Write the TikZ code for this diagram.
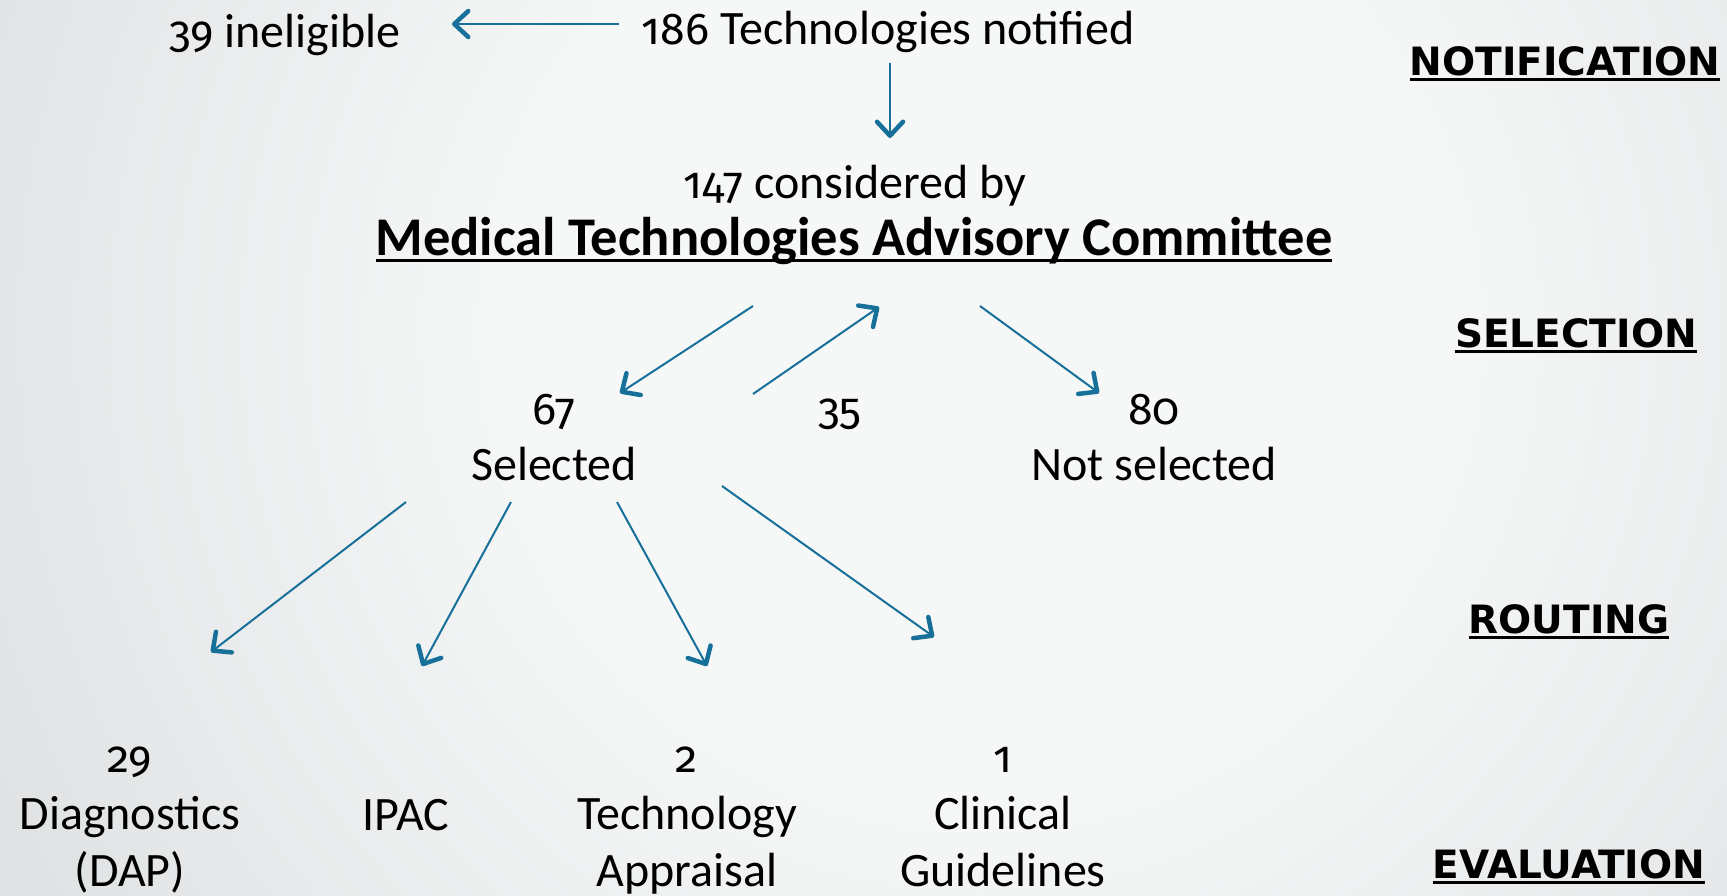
\documentclass[tikz,border=0pt]{standalone}
\usepackage{fontspec}
\setmainfont{Carlito}
\newfontfamily\oldnum[Numbers=OldStyle,Scale=0.93]{Fira Sans}
\newfontfamily\stagefont{DejaVu Sans}
\usetikzlibrary{arrows.meta}

\definecolor{flow}{HTML}{17709A}
\definecolor{paperA}{HTML}{F6F7F7}
\definecolor{paperB}{HTML}{D9DCDE}
\definecolor{paperC}{HTML}{B4B8BB}
\pgfdeclareradialshading{paper}{\pgfpointorigin}{%
  color(0bp)=(paperA); color(10bp)=(paperA); color(28bp)=(paperB); color(50bp)=(paperC)}

% text with a rule underneath: text, depth of rule, rule thickness
\newsavebox\ulinebox
\newcommand\ulinetext[3]{%
  \sbox\ulinebox{#1}\rlap{\usebox\ulinebox}\rule[-#2]{\wd\ulinebox}{#3}}
% figures set as old-style numerals
\newcommand\num[1]{{\oldnum #1}}

\begin{document}
\begin{tikzpicture}[x=1pt,y=-1pt,
  txt/.style={inner sep=0pt, anchor=base, align=center,
              font=\fontsize{48}{57}\selectfont},
  twoline/.style={txt, font=\fontsize{48}{56}\selectfont},
  stage/.style={inner sep=0pt, anchor=base,
                font=\stagefont\bfseries\fontsize{39}{46}\selectfont},
  flowarrow/.style={draw=flow, line width=2pt,
                    -{Straight Barb[length=14pt,width=26pt,line width=4.5pt,
                                    line cap=round,line join=round]}}]

\useasboundingbox (0,0) rectangle (1727,895);
\begin{scope}
  \clip (0,0) rectangle (1727,895);
  \shade[shading=paper] (980,330) circle (1150pt);
\end{scope}

% flow counts (multi-line nodes sit on the baseline of their last line)
\node[txt] (notified) at (888,44) {\num{186} Technologies notified};
\node[txt] (inelig) at (285,47) {\num{39} ineligible};
\node[txt] (considered) at (855,198) {\num{147} considered by};
\node[txt, font=\bfseries\fontsize{54.5}{60}\selectfont] (mtac) at (854,255)
  {\ulinetext{Medical Technologies Advisory Committee}{7pt}{3pt}};
\node[twoline] (selected) at (554,480) {\num{67}\\Selected};
\node[txt] (returned) at (840,424) {\num{35}};
\node[twoline] (notsel) at (1154,480) {\num{80}\\Not selected};
\node[txt] (dap) at (130,886) {\num{29}\\Diagnostics\\(DAP)};
\node[txt] (ipac) at (406,830) {IPAC};
\node[txt] (ta) at (687,886) {\num{2}\\Technology\\Appraisal};
\node[txt] (cg) at (1003,886) {\num{1}\\Clinical\\Guidelines};

% stage headings
\node[stage] (hNotif) at (1565,75) {\ulinetext{NOTIFICATION}{6pt}{3pt}};
\node[stage] (hSelect) at (1576,347) {\ulinetext{SELECTION}{6pt}{3pt}};
\node[stage] (hRoute) at (1569,633) {\ulinetext{ROUTING}{6pt}{3pt}};
\node[stage] (hEval) at (1569,878) {\ulinetext{EVALUATION}{6pt}{3pt}};

% arrow ends
\coordinate (inA) at (619,24);   \coordinate (inB) at (452,24);
\coordinate (dnA) at (890,63);   \coordinate (dnB) at (890,138);
\coordinate (slA) at (753,306);  \coordinate (slB) at (620,393);
\coordinate (rtA) at (753,394);  \coordinate (rtB) at (879,307);
\coordinate (nsA) at (980,306);  \coordinate (nsB) at (1099,393);
\coordinate (r1A) at (406,502);  \coordinate (r1B) at (211,652);
\coordinate (r2A) at (511,502);  \coordinate (r2B) at (422,666);
\coordinate (r3A) at (617,502);  \coordinate (r3B) at (707,666);
\coordinate (r4A) at (722,486);  \coordinate (r4B) at (934,637);

\draw[flowarrow] (inA) -- (inB);
\draw[flowarrow] (dnA) -- (dnB);
\draw[flowarrow] (slA) -- (slB);
\draw[flowarrow] (rtA) -- (rtB);
\draw[flowarrow] (nsA) -- (nsB);
\draw[flowarrow] (r1A) -- (r1B);
\draw[flowarrow] (r2A) -- (r2B);
\draw[flowarrow] (r3A) -- (r3B);
\draw[flowarrow] (r4A) -- (r4B);
\end{tikzpicture}
\end{document}
